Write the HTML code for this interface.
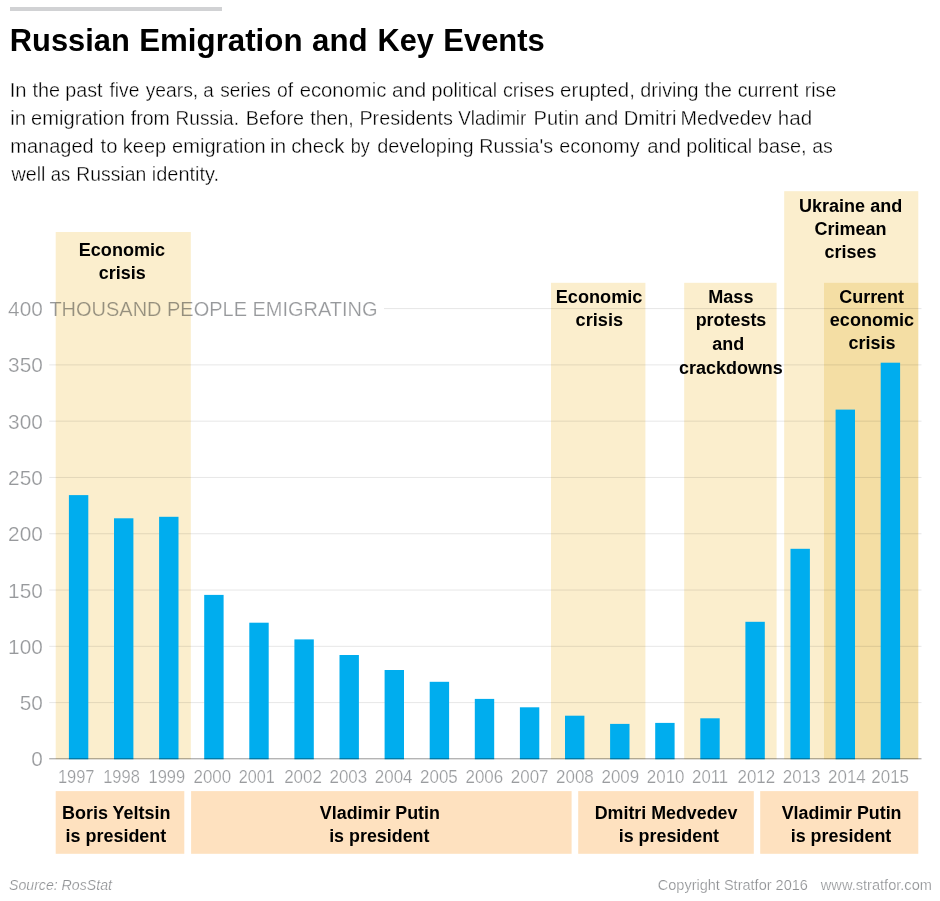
<!DOCTYPE html>
<html lang="en">
<head>
<meta charset="utf-8">
<title>Russian Emigration and Key Events</title>
<style>
html,body{margin:0;padding:0;background:#fff;}
body{width:940px;height:901px;overflow:hidden;position:relative;font-family:"Liberation Sans",sans-serif;}
svg{position:absolute;left:0;top:0;display:block;}
text{font-family:"Liberation Sans",sans-serif;}
.t{font-weight:bold;fill:#000;font-size:32.1px;}
.b{font-weight:bold;fill:#000;font-size:18.7px;}
.thin{stroke:#fff;stroke-width:0.4px;paint-order:fill stroke;}
.thin2{stroke:#fff;stroke-width:0.22px;paint-order:fill stroke;}
.yl{fill:#97999c;font-size:20.8px;}
.xl{fill:#9a9c9f;font-size:18.5px;}
.p{fill:#000;font-size:20.5px;stroke:#fff;stroke-width:0.34px;paint-order:fill stroke;}
.f{fill:#8f9194;font-size:14.8px;}
.fi{font-style:italic;}
.band{fill:#fbeecd;mix-blend-mode:multiply;}
.band5{fill:#f8eecc;}
</style>
</head>
<body>
<svg width="940" height="901" viewBox="0 0 940 901">
<rect x="0" y="0" width="940" height="901" fill="#fff"/>

<rect x="10" y="7" width="212" height="4" fill="#d1d2d4"/>
<text class="t" y="50.50"><tspan x="9.82" textLength="120.00" lengthAdjust="spacingAndGlyphs">Russian</tspan> <tspan x="139.20" textLength="163.32" lengthAdjust="spacingAndGlyphs">Emigration</tspan> <tspan x="312.02" textLength="55.60" lengthAdjust="spacingAndGlyphs">and</tspan> <tspan x="377.56" textLength="56.35" lengthAdjust="spacingAndGlyphs">Key</tspan> <tspan x="443.29" textLength="101.51" lengthAdjust="spacingAndGlyphs">Events</tspan></text>
<text class="p" y="97.00"><tspan x="9.73" textLength="16.84" lengthAdjust="spacingAndGlyphs">In</tspan> <tspan x="32.51" textLength="27.62" lengthAdjust="spacingAndGlyphs">the</tspan> <tspan x="65.33" textLength="37.24" lengthAdjust="spacingAndGlyphs">past</tspan> <tspan x="109.47" textLength="29.91" lengthAdjust="spacingAndGlyphs">five</tspan> <tspan x="145.67" textLength="52.53" lengthAdjust="spacingAndGlyphs">years,</tspan> <tspan x="203.29" textLength="10.45" lengthAdjust="spacingAndGlyphs">a</tspan> <tspan x="220.23" textLength="50.60" lengthAdjust="spacingAndGlyphs">series</tspan> <tspan x="277.02" textLength="16.16" lengthAdjust="spacingAndGlyphs">of</tspan> <tspan x="299.67" textLength="86.71" lengthAdjust="spacingAndGlyphs">economic</tspan> <tspan x="392.02" textLength="34.23" lengthAdjust="spacingAndGlyphs">and</tspan> <tspan x="431.60" textLength="65.57" lengthAdjust="spacingAndGlyphs">political</tspan> <tspan x="502.93" textLength="51.42" lengthAdjust="spacingAndGlyphs">crises</tspan> <tspan x="560.05" textLength="74.78" lengthAdjust="spacingAndGlyphs">erupted,</tspan> <tspan x="640.25" textLength="58.18" lengthAdjust="spacingAndGlyphs">driving</tspan> <tspan x="704.52" textLength="27.33" lengthAdjust="spacingAndGlyphs">the</tspan> <tspan x="737.82" textLength="60.66" lengthAdjust="spacingAndGlyphs">current</tspan> <tspan x="804.71" textLength="31.64" lengthAdjust="spacingAndGlyphs">rise</tspan></text>
<text class="p" y="124.90"><tspan x="10.25" textLength="15.92" lengthAdjust="spacingAndGlyphs">in</tspan> <tspan x="31.08" textLength="93.97" lengthAdjust="spacingAndGlyphs">emigration</tspan> <tspan x="130.82" textLength="39.02" lengthAdjust="spacingAndGlyphs">from</tspan> <tspan x="175.62" textLength="63.33" lengthAdjust="spacingAndGlyphs">Russia.</tspan> <tspan x="245.74" textLength="58.40" lengthAdjust="spacingAndGlyphs">Before</tspan> <tspan x="310.27" textLength="43.40" lengthAdjust="spacingAndGlyphs">then,</tspan> <tspan x="359.40" textLength="93.39" lengthAdjust="spacingAndGlyphs">Presidents</tspan> <tspan x="458.25" textLength="68.03" lengthAdjust="spacingAndGlyphs">Vladimir</tspan> <tspan x="533.50" textLength="45.76" lengthAdjust="spacingAndGlyphs">Putin</tspan> <tspan x="584.43" textLength="33.93" lengthAdjust="spacingAndGlyphs">and</tspan> <tspan x="623.83" textLength="52.53" lengthAdjust="spacingAndGlyphs">Dmitri</tspan> <tspan x="680.55" textLength="90.98" lengthAdjust="spacingAndGlyphs">Medvedev</tspan> <tspan x="777.82" textLength="34.40" lengthAdjust="spacingAndGlyphs">had</tspan></text>
<text class="p" y="152.80"><tspan x="10.24" textLength="83.43" lengthAdjust="spacingAndGlyphs">managed</tspan> <tspan x="100.53" textLength="16.85" lengthAdjust="spacingAndGlyphs">to</tspan> <tspan x="122.84" textLength="43.24" lengthAdjust="spacingAndGlyphs">keep</tspan> <tspan x="172.10" textLength="93.65" lengthAdjust="spacingAndGlyphs">emigration</tspan> <tspan x="269.95" textLength="16.38" lengthAdjust="spacingAndGlyphs">in</tspan> <tspan x="291.15" textLength="53.27" lengthAdjust="spacingAndGlyphs">check</tspan> <tspan x="350.73" textLength="19.03" lengthAdjust="spacingAndGlyphs">by</tspan> <tspan x="377.19" textLength="96.34" lengthAdjust="spacingAndGlyphs">developing</tspan> <tspan x="479.33" textLength="73.63" lengthAdjust="spacingAndGlyphs">Russia's</tspan> <tspan x="559.34" textLength="80.27" lengthAdjust="spacingAndGlyphs">economy</tspan> <tspan x="647.17" textLength="33.83" lengthAdjust="spacingAndGlyphs">and</tspan> <tspan x="686.23" textLength="65.82" lengthAdjust="spacingAndGlyphs">political</tspan> <tspan x="757.81" textLength="48.82" lengthAdjust="spacingAndGlyphs">base,</tspan> <tspan x="812.28" textLength="20.62" lengthAdjust="spacingAndGlyphs">as</tspan></text>
<text class="p" y="180.70"><tspan x="11.45" textLength="34.00" lengthAdjust="spacingAndGlyphs">well</tspan> <tspan x="50.71" textLength="19.44" lengthAdjust="spacingAndGlyphs">as</tspan> <tspan x="76.32" textLength="69.87" lengthAdjust="spacingAndGlyphs">Russian</tspan> <tspan x="151.82" textLength="67.32" lengthAdjust="spacingAndGlyphs">identity.</tspan></text>
<rect x="49.2" y="702.11" width="872.3" height="1" fill="#e7e7e7"/>
<rect x="49.2" y="645.82" width="872.3" height="1" fill="#e7e7e7"/>
<rect x="49.2" y="589.53" width="872.3" height="1" fill="#e7e7e7"/>
<rect x="49.2" y="533.24" width="872.3" height="1" fill="#e7e7e7"/>
<rect x="49.2" y="476.95" width="872.3" height="1" fill="#e7e7e7"/>
<rect x="49.2" y="420.66" width="872.3" height="1" fill="#e7e7e7"/>
<rect x="49.2" y="364.37" width="872.3" height="1" fill="#e7e7e7"/>
<rect x="384" y="308.08" width="537.5" height="1" fill="#e7e7e7"/>
<text class="yl thin2" text-anchor="end" x="42.8" y="766.4">0</text>
<text class="yl thin2" text-anchor="end" x="42.8" y="710.1">50</text>
<text class="yl thin2" text-anchor="end" x="42.8" y="653.8">100</text>
<text class="yl thin2" text-anchor="end" x="42.8" y="597.5">150</text>
<text class="yl thin2" text-anchor="end" x="42.8" y="541.2">200</text>
<text class="yl thin2" text-anchor="end" x="42.8" y="484.9">250</text>
<text class="yl thin2" text-anchor="end" x="42.8" y="428.7">300</text>
<text class="yl thin2" text-anchor="end" x="42.8" y="372.4">350</text>
<text class="yl thin2" text-anchor="end" x="42.8" y="316.1">400</text>
<text class="yl thin2" x="49.43" y="316.08" textLength="328.07" lengthAdjust="spacingAndGlyphs">THOUSAND PEOPLE EMIGRATING</text>
<text class="xl thin2" x="57.9" y="782.8" textLength="36.6" lengthAdjust="spacingAndGlyphs">1997</text>
<text class="xl thin2" x="103.2" y="782.8" textLength="36.6" lengthAdjust="spacingAndGlyphs">1998</text>
<text class="xl thin2" x="148.5" y="782.8" textLength="36.6" lengthAdjust="spacingAndGlyphs">1999</text>
<text class="xl thin2" x="193.5" y="782.8" textLength="37.7" lengthAdjust="spacingAndGlyphs">2000</text>
<text class="xl thin2" x="238.8" y="782.8" textLength="36.1" lengthAdjust="spacingAndGlyphs">2001</text>
<text class="xl thin2" x="284.2" y="782.8" textLength="37.7" lengthAdjust="spacingAndGlyphs">2002</text>
<text class="xl thin2" x="329.5" y="782.8" textLength="37.7" lengthAdjust="spacingAndGlyphs">2003</text>
<text class="xl thin2" x="374.8" y="782.8" textLength="37.7" lengthAdjust="spacingAndGlyphs">2004</text>
<text class="xl thin2" x="420.1" y="782.8" textLength="37.7" lengthAdjust="spacingAndGlyphs">2005</text>
<text class="xl thin2" x="465.5" y="782.8" textLength="37.7" lengthAdjust="spacingAndGlyphs">2006</text>
<text class="xl thin2" x="510.8" y="782.8" textLength="37.7" lengthAdjust="spacingAndGlyphs">2007</text>
<text class="xl thin2" x="556.1" y="782.8" textLength="37.7" lengthAdjust="spacingAndGlyphs">2008</text>
<text class="xl thin2" x="601.5" y="782.8" textLength="37.7" lengthAdjust="spacingAndGlyphs">2009</text>
<text class="xl thin2" x="646.8" y="782.8" textLength="37.7" lengthAdjust="spacingAndGlyphs">2010</text>
<text class="xl thin2" x="692.1" y="782.8" textLength="36.1" lengthAdjust="spacingAndGlyphs">2011</text>
<text class="xl thin2" x="737.5" y="782.8" textLength="37.7" lengthAdjust="spacingAndGlyphs">2012</text>
<text class="xl thin2" x="782.8" y="782.8" textLength="37.7" lengthAdjust="spacingAndGlyphs">2013</text>
<text class="xl thin2" x="828.1" y="782.8" textLength="37.7" lengthAdjust="spacingAndGlyphs">2014</text>
<text class="xl thin2" x="871.3" y="782.8" textLength="37.7" lengthAdjust="spacingAndGlyphs">2015</text>
<rect class="band" x="55.7" y="232" width="135.1" height="527.2"/>
<rect class="band" x="551" y="282.8" width="94.4" height="476.4"/>
<rect class="band" x="684.2" y="282.8" width="92.4" height="476.4"/>
<rect class="band" x="784.2" y="191.2" width="134.1" height="568.0"/>
<rect class="band band5" x="824" y="282.8" width="94.3" height="476.4"/>
<rect x="68.90" y="495.10" width="19.4" height="264.20" fill="#00adee"/>
<rect x="114.00" y="518.30" width="19.4" height="241.00" fill="#00adee"/>
<rect x="159.10" y="516.80" width="19.4" height="242.50" fill="#00adee"/>
<rect x="204.20" y="594.90" width="19.4" height="164.40" fill="#00adee"/>
<rect x="249.30" y="622.70" width="19.4" height="136.60" fill="#00adee"/>
<rect x="294.40" y="639.40" width="19.4" height="119.90" fill="#00adee"/>
<rect x="339.50" y="655.00" width="19.4" height="104.30" fill="#00adee"/>
<rect x="384.60" y="670.00" width="19.4" height="89.30" fill="#00adee"/>
<rect x="429.70" y="681.80" width="19.4" height="77.50" fill="#00adee"/>
<rect x="474.80" y="698.90" width="19.4" height="60.40" fill="#00adee"/>
<rect x="519.90" y="707.30" width="19.4" height="52.00" fill="#00adee"/>
<rect x="565.00" y="715.70" width="19.4" height="43.60" fill="#00adee"/>
<rect x="610.10" y="723.90" width="19.4" height="35.40" fill="#00adee"/>
<rect x="655.20" y="722.90" width="19.4" height="36.40" fill="#00adee"/>
<rect x="700.30" y="718.30" width="19.4" height="41.00" fill="#00adee"/>
<rect x="745.40" y="621.80" width="19.4" height="137.50" fill="#00adee"/>
<rect x="790.50" y="548.80" width="19.4" height="210.50" fill="#00adee"/>
<rect x="835.60" y="409.60" width="19.4" height="349.70" fill="#00adee"/>
<rect x="880.70" y="362.70" width="19.4" height="396.60" fill="#00adee"/>
<rect x="49.2" y="758.00" width="872.3" height="1.4" fill="#b4b4b4" style="mix-blend-mode:multiply"/>
<rect x="55.7" y="791.1" width="128.6" height="62.7" fill="#fee1bf"/>
<rect x="191.1" y="791.1" width="380.5" height="62.7" fill="#fee1bf"/>
<rect x="578.2" y="791.1" width="175.6" height="62.7" fill="#fee1bf"/>
<rect x="760.2" y="791.1" width="158.1" height="62.7" fill="#fee1bf"/>
<text class="b" x="78.77" y="255.50" textLength="86.38" lengthAdjust="spacingAndGlyphs">Economic</text>
<text class="b" x="98.79" y="278.50" textLength="46.93" lengthAdjust="spacingAndGlyphs">crisis</text>
<text class="b" x="555.73" y="303.20" textLength="86.70" lengthAdjust="spacingAndGlyphs">Economic</text>
<text class="b" x="575.62" y="326.00" textLength="47.46" lengthAdjust="spacingAndGlyphs">crisis</text>
<text class="b" x="708.24" y="303.00" textLength="45.23" lengthAdjust="spacingAndGlyphs">Mass</text>
<text class="b" x="695.68" y="326.10" textLength="70.63" lengthAdjust="spacingAndGlyphs">protests</text>
<text class="b" x="712.26" y="350.10" textLength="31.90" lengthAdjust="spacingAndGlyphs">and</text>
<text class="b" x="679.00" y="373.60" textLength="103.85" lengthAdjust="spacingAndGlyphs">crackdowns</text>
<text class="b" x="798.99" y="212.00" textLength="103.26" lengthAdjust="spacingAndGlyphs">Ukraine and</text>
<text class="b" x="814.48" y="234.90" textLength="72.05" lengthAdjust="spacingAndGlyphs">Crimean</text>
<text class="b" x="824.49" y="257.70" textLength="51.96" lengthAdjust="spacingAndGlyphs">crises</text>
<text class="b" x="839.20" y="303.00" textLength="64.90" lengthAdjust="spacingAndGlyphs">Current</text>
<text class="b" x="829.80" y="325.70" textLength="84.29" lengthAdjust="spacingAndGlyphs">economic</text>
<text class="b" x="848.45" y="348.50" textLength="47.03" lengthAdjust="spacingAndGlyphs">crisis</text>
<text class="b" x="61.96" y="819.10" textLength="108.60" lengthAdjust="spacingAndGlyphs">Boris Yeltsin</text>
<text class="b" x="65.55" y="842.20" textLength="100.70" lengthAdjust="spacingAndGlyphs">is president</text>
<text class="b" x="319.87" y="819.10" textLength="120.08" lengthAdjust="spacingAndGlyphs">Vladimir Putin</text>
<text class="b" x="329.15" y="842.20" textLength="100.32" lengthAdjust="spacingAndGlyphs">is president</text>
<text class="b" x="594.70" y="819.10" textLength="142.72" lengthAdjust="spacingAndGlyphs">Dmitri Medvedev</text>
<text class="b" x="618.70" y="842.20" textLength="100.33" lengthAdjust="spacingAndGlyphs">is president</text>
<text class="b" x="781.68" y="819.10" textLength="119.83" lengthAdjust="spacingAndGlyphs">Vladimir Putin</text>
<text class="b" x="790.70" y="842.20" textLength="100.62" lengthAdjust="spacingAndGlyphs">is president</text>
<text class="f fi thin2" x="8.97" y="889.60" textLength="102.96" lengthAdjust="spacingAndGlyphs">Source: RosStat</text>
<text class="f thin2" x="657.74" y="890.10" textLength="150.15" lengthAdjust="spacingAndGlyphs">Copyright Stratfor 2016</text>
<text class="f thin2" x="820.84" y="890.10" textLength="111.12" lengthAdjust="spacingAndGlyphs">www.stratfor.com</text>
</svg>
</body>
</html>
